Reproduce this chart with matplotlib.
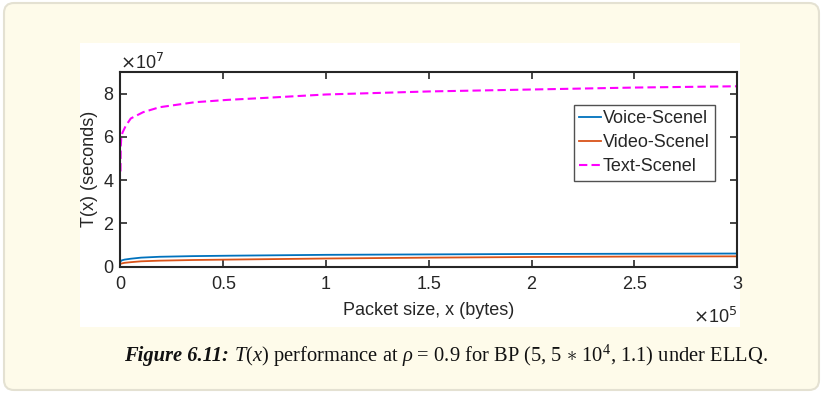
import numpy as np
import matplotlib
matplotlib.use('Agg')
import matplotlib.pyplot as plt
from matplotlib.patches import FancyBboxPatch, Rectangle

# values (x in bytes, T in seconds)
x_text = [0, 100, 400, 1000, 2500, 5000, 11000, 19000, 36000, 52000, 70000,
          100000, 150000, 200000, 250000, 300000]
t_text = [4.4e7, 5.5e7, 6.0e7, 6.2e7, 6.5e7, 6.85e7, 7.14e7, 7.37e7, 7.6e7,
          7.71e7, 7.8e7, 7.96e7, 8.1e7, 8.19e7, 8.28e7, 8.34e7]

x_av = [0, 500, 2000, 5000, 10000, 19000, 35000, 53000, 100000, 150000,
        200000, 250000, 300000]
t_voice = [0.23e7, 0.28e7, 0.32e7, 0.36e7, 0.41e7, 0.45e7, 0.48e7, 0.50e7,
           0.54e7, 0.56e7, 0.58e7, 0.59e7, 0.60e7]
t_video = [0.12e7, 0.14e7, 0.17e7, 0.20e7, 0.24e7, 0.27e7, 0.30e7, 0.32e7,
           0.37e7, 0.41e7, 0.44e7, 0.46e7, 0.47e7]

x_ticks = [0, 50000, 100000, 150000, 200000, 250000, 300000]
x_labels = ['0', '0.5', '1', '1.5', '2', '2.5', '3']
y_ticks = [0, 2e7, 4e7, 6e7, 8e7]
y_labels = ['0', '2', '4', '6', '8']

plt.rcParams['font.family'] = ['Liberation Sans', 'DejaVu Sans']
plt.rcParams['mathtext.fontset'] = 'custom'
plt.rcParams['mathtext.rm'] = 'Liberation Serif'
plt.rcParams['mathtext.it'] = 'Liberation Serif:italic'
plt.rcParams['mathtext.bf'] = 'Liberation Serif:bold'

W, H = 824, 394
fig = plt.figure(figsize=(W / 100, H / 100), dpi=100, facecolor='white')

# background panel in pixel coordinates
bg = fig.add_axes([0, 0, 1, 1])
bg.set_xlim(0, W)
bg.set_ylim(H, 0)
bg.axis('off')
bg.add_patch(FancyBboxPatch((4, 3), 815, 387,
                            boxstyle='round,pad=0,rounding_size=10',
                            facecolor='#fefbea', edgecolor='#e4e1d2', lw=1.5))
bg.add_patch(Rectangle((80, 43), 660, 284, facecolor='white', edgecolor='none'))

ink = '#262626'
fs = 13

ax = fig.add_axes([120.5 / W, 1 - 266.5 / H, 616.5 / W, 194.5 / H])
ax.plot(x_av, t_voice, color='#0072bd', lw=1.3, label='Voice-Scenel')
ax.plot(x_av, t_video, color='#d95319', lw=1.3, label='Video-Scenel')
ax.plot(x_text, t_text, color='#ff00ff', lw=1.5, ls=(0, (4, 2)),
        label='Text-Scenel')

ax.set_xlim(0, 300000)
ax.set_ylim(0, 9e7)
ax.set_xticks(x_ticks)
ax.set_xticklabels(x_labels)
ax.set_yticks(y_ticks)
ax.set_yticklabels(y_labels)
ax.tick_params(direction='in', length=5, width=1.2, colors=ink,
               labelsize=fs, top=True, right=True)
ax.tick_params(axis='x', pad=7)
ax.tick_params(axis='y', pad=5)
for s in ax.spines.values():
    s.set_color(ink)
    s.set_linewidth(1.5)

ax.set_xlabel('Packet size, x (bytes)', fontsize=fs, color=ink, labelpad=6)
ax.set_ylabel('T(x) (seconds)', fontsize=fs, color=ink, labelpad=4)

ax.text(0.0, 0.995, r'$\times$10$^{7}$', transform=ax.transAxes,
        fontsize=fs, color=ink, ha='left', va='bottom',
        math_fontfamily='dejavusans')
ax.text(1.0, -0.26, r'$\times$10$^{5}$', transform=ax.transAxes,
        fontsize=fs, color=ink, ha='right', va='center',
        math_fontfamily='dejavusans')

leg = ax.legend(loc='upper right', bbox_to_anchor=(0.964, 0.83),
                borderaxespad=0, fontsize=fs, frameon=True, fancybox=False,
                handlelength=1.2, handletextpad=0.08, labelspacing=0.38,
                borderpad=0.3)
leg.get_frame().set_edgecolor(ink)
leg.get_frame().set_linewidth(1.0)
for t in leg.get_texts():
    t.set_color(ink)

# caption: bold italic lead-in followed by the body, placed side by side
cap_fs = 14.8
cap_y = 356
serif = ['Liberation Serif', 'DejaVu Serif']
lead = 'Figure 6.11:'
body = (r' $T$($x$) performance at $\rho$ = 0.9 for BP (5, 5 $\ast$ 10$^{4}$, '
        r'1.1) under ELLQ.')
renderer = fig.canvas.get_renderer()
t1 = bg.text(0, cap_y, lead, fontsize=cap_fs, family=serif, weight='bold',
             style='italic', va='center', ha='left', color='#111111')
t2 = bg.text(0, cap_y, body, fontsize=cap_fs, family=serif,
             va='center', ha='left', color='#111111')
w1 = t1.get_window_extent(renderer).width
w2 = t2.get_window_extent(renderer).width
x0 = 446 - (w1 + w2) / 2
t1.set_x(x0)
t2.set_x(x0 + w1)

fig.savefig('out.png', dpi=100, facecolor='white')
